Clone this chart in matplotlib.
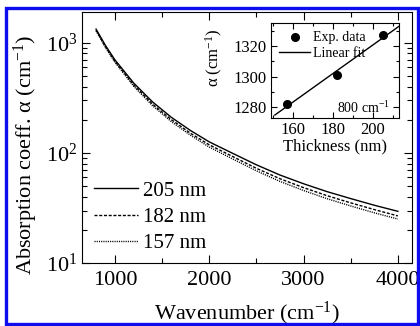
import numpy as np
import matplotlib
matplotlib.use("Agg")
import matplotlib.pyplot as plt
from matplotlib.patches import Rectangle
from matplotlib.ticker import MultipleLocator, LogLocator, NullFormatter

plt.rcParams['font.family'] = ['Liberation Serif', 'DejaVu Serif']
plt.rcParams['mathtext.fontset'] = 'custom'
plt.rcParams['mathtext.rm'] = 'Liberation Serif'
plt.rcParams['mathtext.it'] = 'Liberation Serif:italic'

# absorption spectra
wavenumber = [800, 900, 1000, 1200, 1400, 1600, 1800, 2000, 2250, 2500, 2750, 3000, 3250, 3500, 3750, 4000]
alpha_205 = [1330, 945, 700, 430, 290, 210, 160, 126, 99, 78, 63, 52.5, 44.5, 38.5, 33.5, 29.5]
alpha_182 = [1303, 921, 679, 414, 277, 200, 151, 118.5, 92.6, 72.5, 58.3, 48.4, 40.9, 35.2, 30.6, 26.8]
alpha_157 = [1285, 905, 665, 402, 268, 192, 145, 113, 88, 68.8, 55.1, 45.6, 38.4, 33.0, 28.6, 25.1]

# inset: alpha at 800 cm-1 vs thickness
thickness = [157, 182, 205]
alpha_800 = [1282, 1301, 1327]

fig = plt.figure(figsize=(4.2, 3.26), dpi=100)
ax = fig.add_axes([0.195, 0.193, 0.786, 0.770])

ax.plot(wavenumber, alpha_205, color='black', lw=1.0, ls='-', label='205 nm')
ax.plot(wavenumber, alpha_182, color='black', lw=1.0, ls=(0, (2.2, 1.2)), label='182 nm')
ax.plot(wavenumber, alpha_157, color='black', lw=1.0, ls=(0, (0.8, 0.8)), label='157 nm')

ax.set_yscale('log')
ax.set_xlim(650, 4150)
ax.set_ylim(10, 1900)
ax.xaxis.set_major_locator(MultipleLocator(1000))
ax.xaxis.set_minor_locator(MultipleLocator(500))
ax.yaxis.set_minor_locator(LogLocator(base=10, subs=np.arange(2, 10)))
ax.yaxis.set_minor_formatter(NullFormatter())
ax.tick_params(which='both', direction='in', top=True, right=True, labelsize=16)
ax.tick_params(which='major', length=6, width=0.8)
ax.tick_params(which='minor', length=3.5, width=0.8)
ax.tick_params(axis='x', pad=6)

ax.set_xlabel('Wavenumber (cm$^{\\mathregular{-1}}$)', fontsize=16)
ax.xaxis.label.set_va('baseline')
ax.xaxis.set_label_coords(0.5, -0.225)
ax.set_ylabel('Absorption coeff. α (cm$^{\\mathregular{-1}}$)', fontsize=16)
ax.yaxis.label.set_va('center')
ax.yaxis.set_label_coords(-0.17, 0.43)

leg = ax.legend(loc='lower left', bbox_to_anchor=(0.0, -0.01), frameon=False, fontsize=15,
                handlelength=2.1, handletextpad=0.25, labelspacing=0.32, borderaxespad=0.2)

# inset
ins = fig.add_axes([0.645, 0.638, 0.305, 0.291])
ins.plot(thickness, alpha_800, 'o', color='black', ms=5.5, label='Exp. data')
fit = np.polyfit(thickness, alpha_800, 1)
t_line = np.array([151, 213])
ins.plot(t_line, np.polyval(fit, t_line), color='black', lw=1.0, label='Linear fit')
ins.set_xlim(149, 213)
ins.set_ylim(1273, 1335)
ins.xaxis.set_major_locator(MultipleLocator(20))
ins.xaxis.set_minor_locator(MultipleLocator(10))
ins.yaxis.set_major_locator(MultipleLocator(20))
ins.yaxis.set_minor_locator(MultipleLocator(10))
ins.tick_params(which='both', direction='in', top=True, right=True, labelsize=12, pad=3)
ins.tick_params(which='major', length=4, width=0.8)
ins.tick_params(which='minor', length=2.5, width=0.8)
ins.set_xlabel('Thickness (nm)', fontsize=12, labelpad=0)
ins.set_ylabel('α (cm$^{\\mathregular{-1}}$)', fontsize=12, labelpad=1)
ins.yaxis.set_label_coords(-0.36, 0.64)
ins.legend(loc='upper left', frameon=False, fontsize=10, handlelength=2.2,
           handletextpad=0.2, labelspacing=0.15, borderaxespad=0.2)
ins.text(0.93, 0.11, '800 cm$^{\\mathregular{-1}}$', transform=ins.transAxes,
         ha='right', va='center', fontsize=10)

# blue frame round the figure
fig.patches.append(Rectangle((6 / 420, 2 / 326), 412 / 420, 316 / 326, transform=fig.transFigure,
                             fill=False, edgecolor='#0d0df0', lw=2.4, zorder=10))

fig.savefig('out.png', dpi=100)
